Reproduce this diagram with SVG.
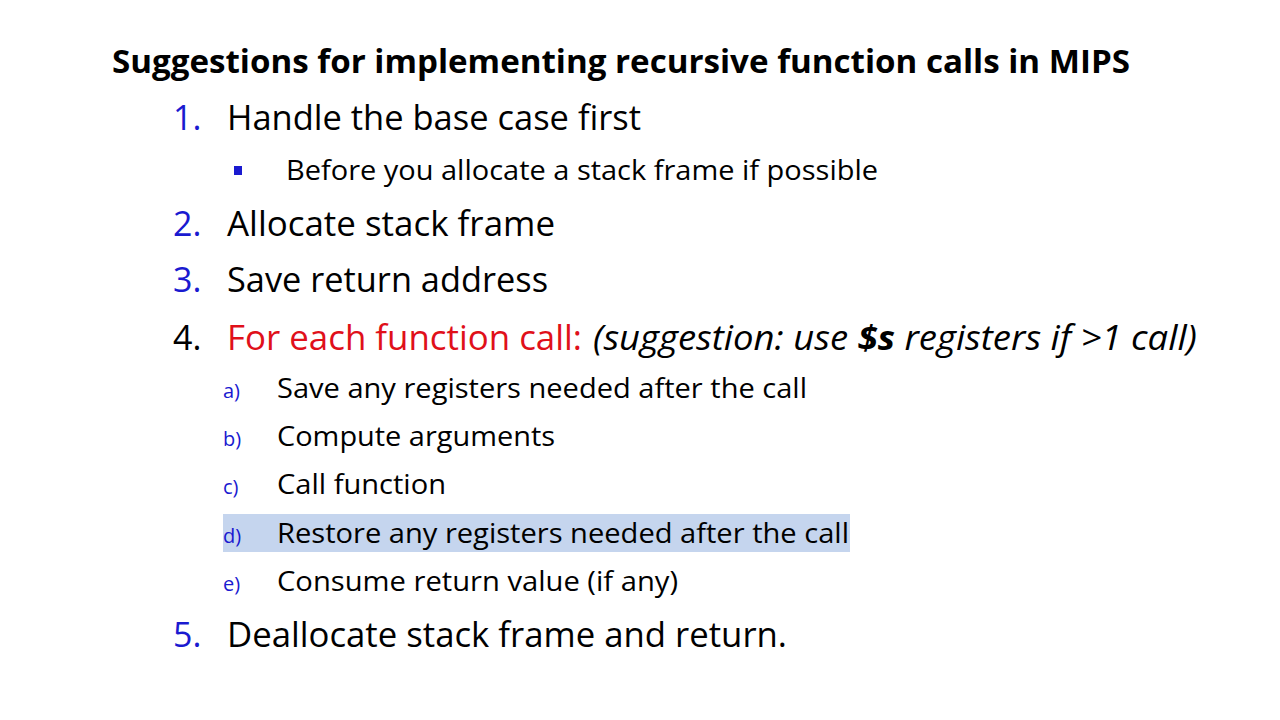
<svg xmlns="http://www.w3.org/2000/svg" width="1280" height="720" viewBox="0 0 1280 720">
<style>
text{font-family:"Open Sans","Liberation Sans",sans-serif;fill:#000}
.t{font-size:32px;font-weight:bold}
.n{font-size:34px;fill:#1a1ad0}
.l1{font-size:34px}
.l2{font-size:28px}
.ab{font-size:20px;fill:#1a1ad0}
</style>
<rect width="1280" height="720" fill="#fff"/>
<text class="t" x="112" y="73" textLength="1018" lengthAdjust="spacingAndGlyphs">Suggestions for implementing recursive function calls in MIPS</text>
<text class="n" x="173" y="130">1.</text>
<text class="l1" x="227" y="130" textLength="414" lengthAdjust="spacingAndGlyphs">Handle the base case first</text>
<rect x="234" y="166" width="8" height="9" fill="#1a1ad0"/>
<text class="l2" x="286" y="180" textLength="592" lengthAdjust="spacingAndGlyphs">Before you allocate a stack frame if possible</text>
<text class="n" x="173" y="236">2.</text>
<text class="l1" x="227" y="236" textLength="328" lengthAdjust="spacingAndGlyphs">Allocate stack frame</text>
<text class="n" x="173" y="292">3.</text>
<text class="l1" x="227" y="292" textLength="321" lengthAdjust="spacingAndGlyphs">Save return address</text>
<text class="l1" x="173" y="350">4.</text>
<text class="l1" x="227" y="350" fill="#e0101a" style="fill:#e0101a" textLength="355" lengthAdjust="spacingAndGlyphs">For each function call:</text>
<text class="l1" x="593" y="350" font-style="italic" textLength="604" lengthAdjust="spacingAndGlyphs">(suggestion: use <tspan font-weight="bold">$s</tspan> registers if &gt;1 call)</text>
<rect x="223" y="514" width="627" height="38" fill="#c5d5ee"/>
<text class="ab" x="223" y="398">a)</text>
<text class="l2" x="277" y="398" textLength="530" lengthAdjust="spacingAndGlyphs">Save any registers needed after the call</text>
<text class="ab" x="223" y="446">b)</text>
<text class="l2" x="277" y="446" textLength="278" lengthAdjust="spacingAndGlyphs">Compute arguments</text>
<text class="ab" x="223" y="494">c)</text>
<text class="l2" x="277" y="494" textLength="169" lengthAdjust="spacingAndGlyphs">Call function</text>
<text class="ab" x="223" y="543">d)</text>
<text class="l2" x="277" y="543" textLength="572" lengthAdjust="spacingAndGlyphs">Restore any registers needed after the call</text>
<text class="ab" x="223" y="591">e)</text>
<text class="l2" x="277" y="591" textLength="401" lengthAdjust="spacingAndGlyphs">Consume return value (if any)</text>
<text class="n" x="173" y="647">5.</text>
<text class="l1" x="227" y="647" textLength="560" lengthAdjust="spacingAndGlyphs">Deallocate stack frame and return.</text>
</svg>
